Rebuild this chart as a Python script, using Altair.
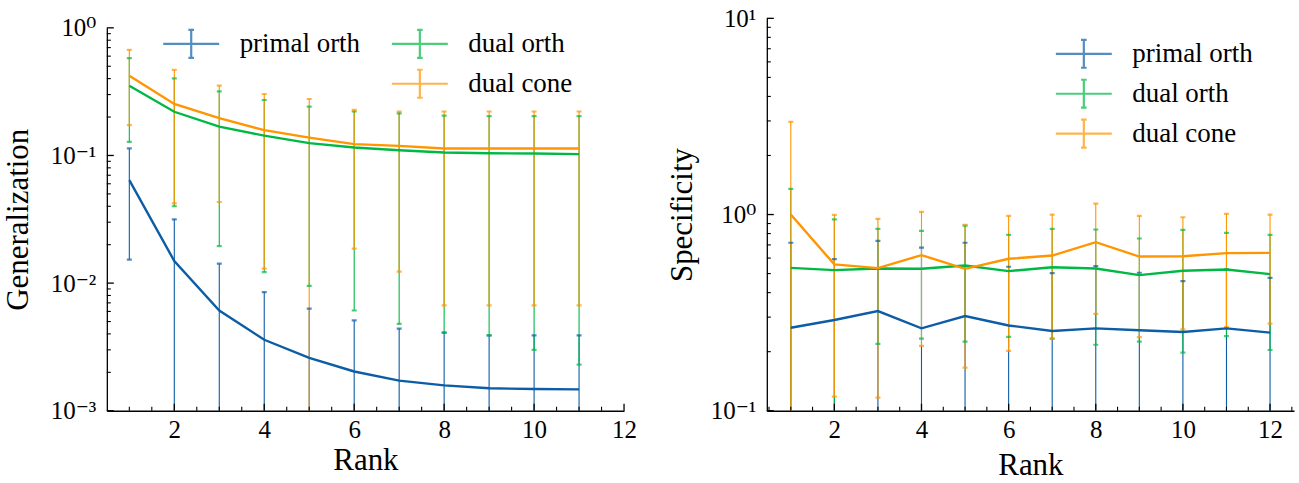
import altair as alt
import pandas as pd

# ---- data -------------------------------------------------------------
SERIES = ["primal orth", "dual orth", "dual cone"]
COLORS = ["#0C5DA5", "#00B945", "#FF9500"]

rank_gen = list(range(1, 12))
gen_primal_orth = [0.064, 0.0149, 0.0061, 0.0036, 0.0026, 0.00203, 0.00172, 0.00158, 0.0015, 0.00148, 0.00147]
gen_primal_orth_hi = [0.1135, 0.0316, 0.0142, 0.0085, 0.0063, 0.0051, 0.0044, 0.0041, 0.0039, 0.0039, 0.0039]
gen_primal_orth_lo = [0.0153, None, None, None, None, None, None, None, None, None, None]
gen_dual_orth = [0.352, 0.220, 0.168, 0.143, 0.125, 0.1155, 0.110, 0.1055, 0.104, 0.1035, 0.1025]
gen_dual_orth_hi = [0.578, 0.402, 0.318, 0.272, 0.241, 0.221, 0.214, 0.205, 0.203, 0.203, 0.203]
gen_dual_orth_lo = [0.128, 0.040, 0.0195, 0.0122, 0.0095, 0.0061, 0.0048, 0.0041, 0.0039, 0.0030, 0.0023]
gen_dual_cone = [0.422, 0.253, 0.196, 0.158, 0.138, 0.1227, 0.119, 0.1135, 0.1135, 0.1135, 0.1135]
gen_dual_cone_hi = [0.672, 0.468, 0.352, 0.303, 0.277, 0.228, 0.221, 0.221, 0.221, 0.221, 0.221]
gen_dual_cone_lo = [0.173, 0.0422, 0.0432, 0.0130, None, 0.0186, 0.0123, 0.0067, 0.0067, 0.0067, 0.0067]

rank_spec = list(range(1, 13))
spec_primal_orth = [0.265, 0.290, 0.322, 0.263, 0.304, 0.272, 0.255, 0.263, 0.257, 0.252, 0.263, 0.250]
spec_primal_orth_hi = [0.718, 0.593, 0.734, 0.679, 0.718, 0.542, 0.503, 0.546, 0.505, 0.458, 0.525, 0.476]
spec_primal_orth_lo = [None] * 12
spec_dual_orth = [0.535, 0.521, 0.531, 0.529, 0.550, 0.515, 0.539, 0.531, 0.491, 0.517, 0.525, 0.497]
spec_dual_orth_hi = [1.352, 0.944, 0.846, 0.826, 0.879, 0.788, 0.846, 0.839, 0.755, 0.836, 0.807, 0.788]
spec_dual_orth_lo = [None, None, 0.219, 0.233, 0.225, 0.238, 0.233, 0.217, 0.225, 0.198, 0.240, 0.204]
spec_dual_cone = [1.0, 0.557, 0.533, 0.621, 0.529, 0.595, 0.618, 0.723, 0.611, 0.613, 0.636, 0.638]
spec_dual_cone_hi = [2.97, 0.996, 0.951, 1.032, 0.886, 0.985, 1.0, 1.137, 0.985, 0.969, 1.008, 1.0]
spec_dual_cone_lo = [None, 0.118, 0.1167, 0.214, 0.166, 0.202, 0.233, 0.312, 0.237, 0.260, 0.267, 0.278]

FONT = "Liberation Serif, DejaVu Serif, serif"
TICK_FS = 25
TITLE_FS = 31
LEGEND_FS = 27
SUP = {-3: "10⁻³", -2: "10⁻²", -1: "10⁻¹", 0: "10⁰", 1: "10¹"}

# an empty legend slot keeps the left legend's first column to a single entry
BLANK = " "
DOMAIN = SERIES + [BLANK]
RANGE = COLORS + ["rgba(0,0,0,0)"]

# legend handle: horizontal line crossed by a capped vertical error bar
HANDLE = "M-2,0H2M0,-1V1M-0.2,-1H0.2M-0.2,1H0.2"
HANDLE_SIZE = 784

H = 393  # plot height shared by both panels


def frame(rank, groups, floor):
    rows = []
    for i, (name, (mean, hi, lo)) in enumerate(zip(SERIES, groups)):
        for r, m, h, l in zip(rank, mean, hi, lo):
            rows.append({"rank": r, "series": name, "k": i, "mean": m,
                         "hi": h, "lo": l, "lo_draw": l if l is not None else floor})
    return pd.DataFrame(rows)


def panel(df, xdom, xmajor, ydom, yrange, exps, ytitle, w, legend, ext, tpad, xtpad):
    xs = alt.Scale(domain=xdom, nice=False, zero=False)
    ys = alt.Scale(type="log", domain=ydom, range=yrange, nice=False)
    yvals = [10.0 ** e for e in exps]
    lab = "[" + ",".join("'%s'" % SUP[e] for e in exps) + "]"
    lab = lab + "[round(log(datum.value)/LN10)+%d]" % (-exps[0])
    xa = alt.Axis(values=xmajor, format="d", labelFlush=False, labelOverlap=False,
                  labelPadding=7, titlePadding=xtpad, title="Rank")
    ya = alt.Axis(values=yvals, labelExpr=lab, labelOverlap=False, labelPadding=11,
                  minExtent=ext, maxExtent=ext, titlePadding=tpad, title=ytitle)
    col = alt.Color("series:N", scale=alt.Scale(domain=DOMAIN, range=RANGE), legend=legend)

    def X(f):
        return alt.X(f, scale=xs, axis=xa)

    def Y(f):
        return alt.Y(f, scale=ys, axis=ya)

    bars = alt.Chart(df).mark_rule(strokeWidth=1.1, clip=True).encode(
        x=X("rank:Q"), y=Y("lo_draw:Q"), y2="hi:Q", color=col)
    caps_hi = alt.Chart(df).mark_tick(orient="horizontal", size=5, thickness=2.2, clip=True).encode(
        x=X("rank:Q"), y=Y("hi:Q"), color=col)
    caps_lo = alt.Chart(df).transform_filter("isValid(datum.lo)").mark_tick(
        orient="horizontal", size=5, thickness=2.2, clip=True).encode(
        x=X("rank:Q"), y=Y("lo:Q"), color=col)
    lines = alt.Chart(df).mark_line(strokeWidth=2.4, clip=True).encode(
        x=X("rank:Q"), y=Y("mean:Q"), color=col, order=alt.Order("k:Q"))

    # inward ticks along the bottom and left spines
    xminor = [v / 2 for v in range(int(xdom[0] * 2) + 1, int(xdom[1] * 2) + 1) if (v / 2) not in xmajor]
    yminor = [k * 10.0 ** e for e in range(exps[0], exps[-1]) for k in range(2, 10)]
    tx_major = alt.Chart(pd.DataFrame({"v": xmajor})).mark_rule(color="black", strokeWidth=1.3).encode(
        x=X("v:Q"), y=alt.value(H), y2=alt.value(H - 7))
    tx_minor = alt.Chart(pd.DataFrame({"v": xminor})).mark_rule(color="black", strokeWidth=1.1).encode(
        x=X("v:Q"), y=alt.value(H), y2=alt.value(H - 4))
    ty_major = alt.Chart(pd.DataFrame({"v": yvals})).mark_rule(color="black", strokeWidth=1.3).encode(
        y=Y("v:Q"), x=alt.value(0), x2=alt.value(7))
    ty_minor = alt.Chart(pd.DataFrame({"v": yminor})).mark_rule(color="black", strokeWidth=1.1).encode(
        y=Y("v:Q"), x=alt.value(0), x2=alt.value(4))

    return alt.layer(bars, caps_hi, caps_lo, lines,
                     tx_major, tx_minor, ty_major, ty_minor).properties(width=w, height=H)


def legend_for(x, y, entries, cols):
    return alt.Legend(title=None, orient="none", legendX=x, legendY=y, columns=cols,
                      values=entries, symbolType=HANDLE, symbolSize=HANDLE_SIZE, symbolStrokeWidth=2.2,
                      labelFont=FONT, labelFontSize=LEGEND_FS, labelColor="black",
                      labelOffset=33, rowPadding=3, columnPadding=27, padding=0)


gen = frame(rank_gen, [(gen_primal_orth, gen_primal_orth_hi, gen_primal_orth_lo),
                       (gen_dual_orth, gen_dual_orth_hi, gen_dual_orth_lo),
                       (gen_dual_cone, gen_dual_cone_hi, gen_dual_cone_lo)], 1e-9)
spec = frame(rank_spec, [(spec_primal_orth, spec_primal_orth_hi, spec_primal_orth_lo),
                         (spec_dual_orth, spec_dual_orth_hi, spec_dual_orth_lo),
                         (spec_dual_cone, spec_dual_cone_hi, spec_dual_cone_lo)], 1e-9)

left = panel(gen, [0.5, 12], [2, 4, 6, 8, 10, 12], [1e-3, 1], [H, 9.5], [-3, -2, -1, 0],
             "Generalization", 518,
             legend_for(69, 10, ["primal orth", BLANK, "dual orth", "dual cone"], 2), 68, 4, 3)
right = panel(spec, [0.45, 12.55], [2, 4, 6, 8, 10, 12], [0.1, 10], [H, 0], [-1, 0, 1],
              "Specificity", 528, legend_for(302, 20, SERIES, 1), 59, 9, 8)

chart = alt.hconcat(left, right, spacing=30).resolve_scale(
    color="independent", x="independent", y="independent"
).resolve_legend(color="independent").properties(
    padding={"left": 3, "top": 6, "right": 5, "bottom": 5}
).configure_view(stroke=None).configure_axis(
    grid=False, ticks=False, domainColor="black", domainWidth=1.3,
    labelFont=FONT, labelFontSize=TICK_FS, labelColor="black",
    titleFont=FONT, titleFontSize=TITLE_FS, titleFontWeight="normal", titleColor="black",
)

chart.save("out.html", embed_options={"renderer": "svg", "actions": False})
